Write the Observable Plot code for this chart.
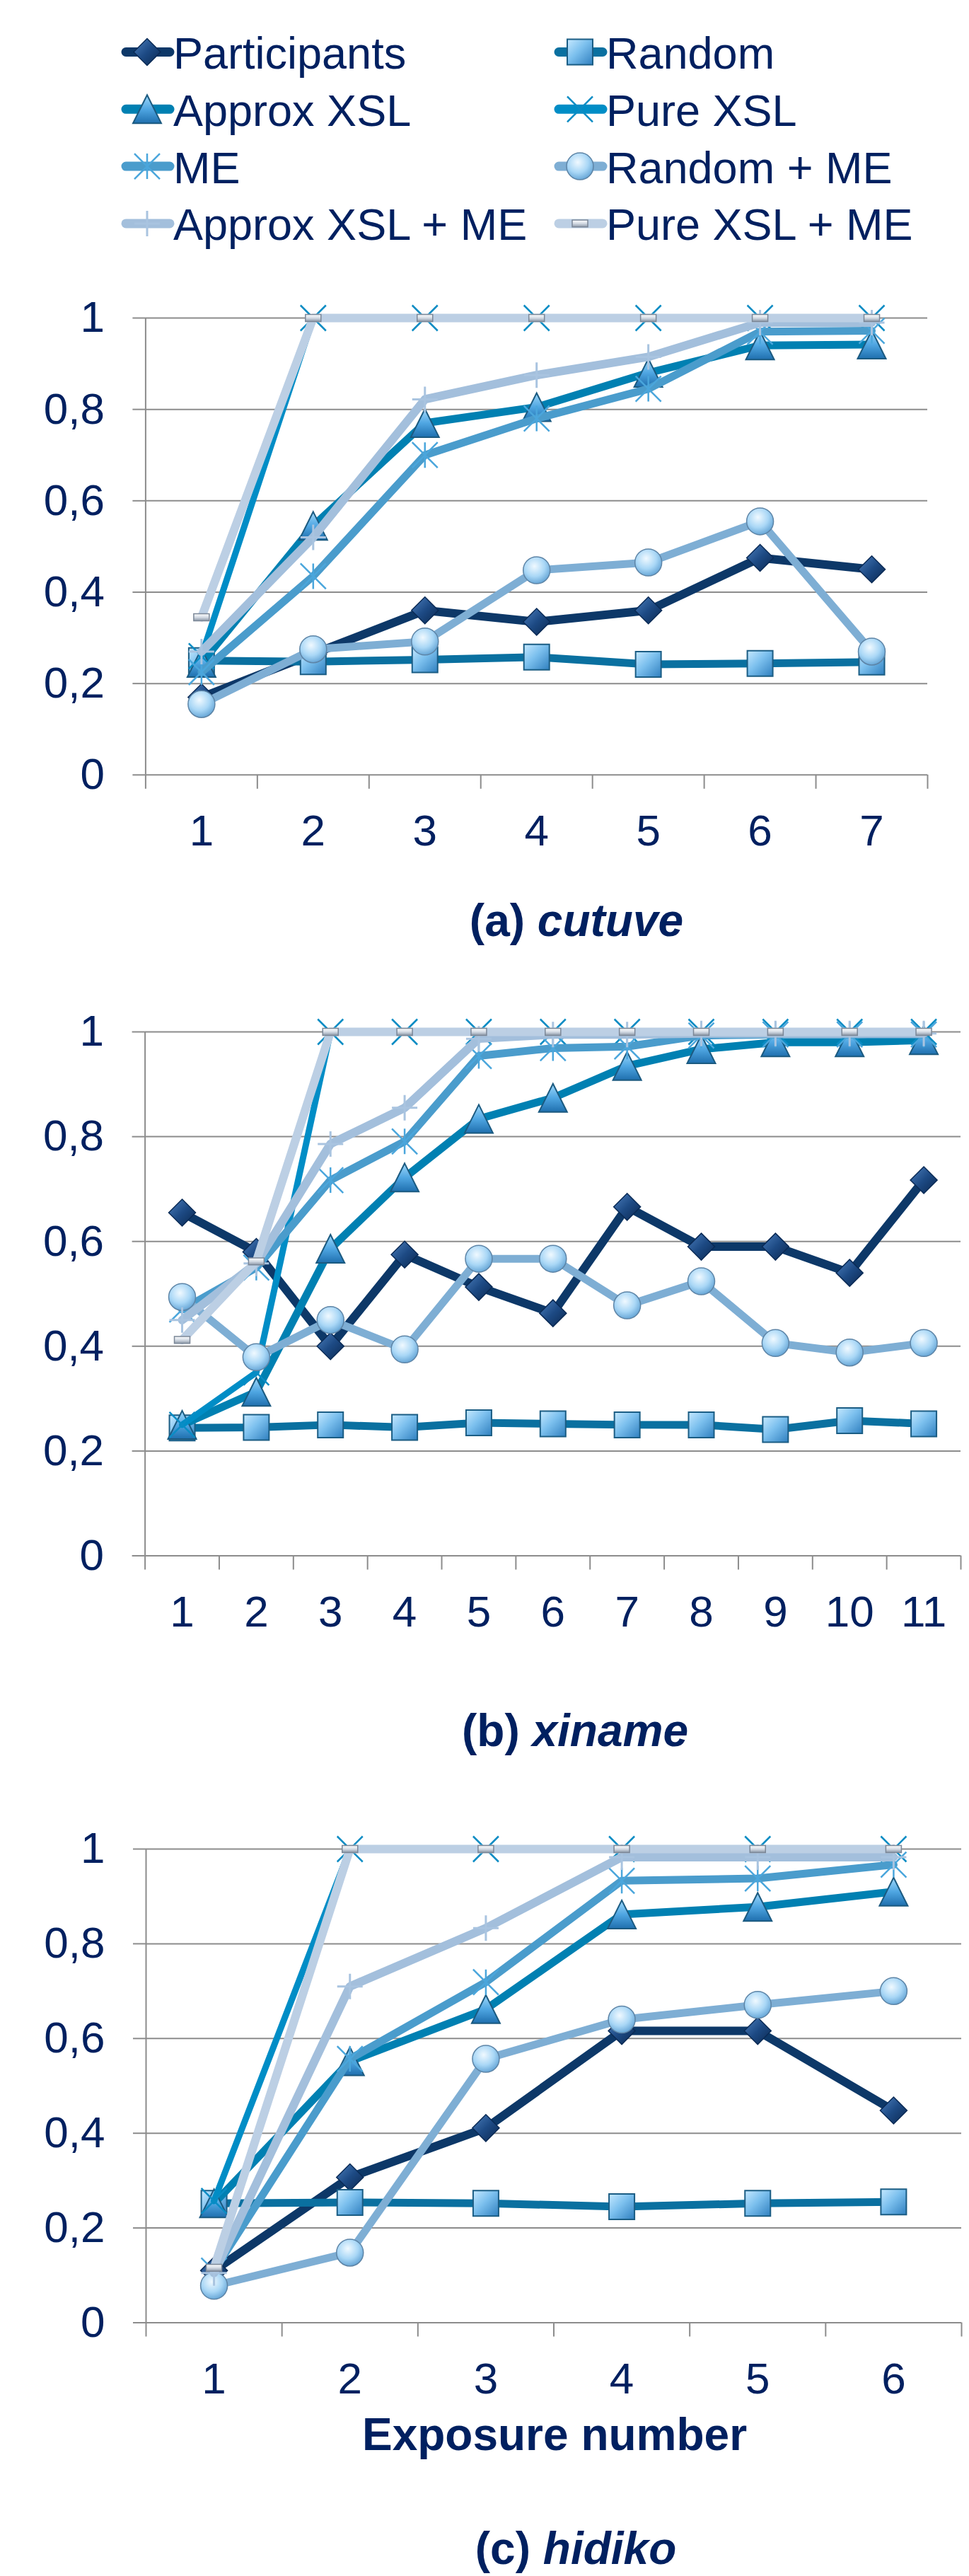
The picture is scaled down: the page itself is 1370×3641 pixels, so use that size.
<!DOCTYPE html>
<html>
<head>
<meta charset="utf-8">
<script src="https://cdn.jsdelivr.net/npm/d3@7"></script>
<script src="https://cdn.jsdelivr.net/npm/@observablehq/plot@0.6"></script>
<style>
  body { margin: 0; background: #fff; }
  #root { position: relative; width: 1370px; height: 3641px; overflow: hidden; font-family: "Liberation Sans", Arial, sans-serif; }
  .panel { position: absolute; left: 0; }
  #overlay { position: absolute; left: 0; top: 0; pointer-events: none; }
</style>
</head>
<body>
<div id="root"></div>
<script>
// ---------------- DATA ----------------
const seriesNames = ["Participants", "Random", "Approx XSL", "Pure XSL", "ME", "Random + ME", "Approx XSL + ME", "Pure XSL + ME"];
const yTicks = [0, 0.2, 0.4, 0.6, 0.8, 1];

// (a) cutuve
const exposuresA = [1, 2, 3, 4, 5, 6, 7];
const participantsA = [0.17, 0.265, 0.36, 0.335, 0.36, 0.475, 0.45];
const randomA       = [0.25, 0.248, 0.252, 0.258, 0.242, 0.244, 0.247];
const approxXslA    = [0.245, 0.545, 0.77, 0.805, 0.88, 0.94, 0.942];
const pureXslA      = [0.26, 1, 1, 1, 1, 1, 1];
const meA           = [0.225, 0.435, 0.70, 0.78, 0.845, 0.97, 0.972];
const randomMeA     = [0.155, 0.275, 0.292, 0.448, 0.465, 0.555, 0.27];
const approxXslMeA  = [0.27, 0.52, 0.822, 0.875, 0.915, 0.99, 0.99];
const pureXslMeA    = [0.345, 1, 1, 1, 1, 1, 1];

// (b) xiname
const exposuresB = [1, 2, 3, 4, 5, 6, 7, 8, 9, 10, 11];
const participantsB = [0.655, 0.58, 0.40, 0.575, 0.513, 0.463, 0.666, 0.59, 0.59, 0.54, 0.717];
const randomB       = [0.244, 0.245, 0.25, 0.245, 0.254, 0.252, 0.25, 0.25, 0.241, 0.258, 0.252];
const approxXslB    = [0.25, 0.313, 0.586, 0.722, 0.834, 0.874, 0.935, 0.967, 0.98, 0.98, 0.984];
const pureXslB      = [0.25, 0.35, 1, 1, 1, 1, 1, 1, 1, 1, 1];
const meB           = [0.47, 0.55, 0.717, 0.791, 0.954, 0.969, 0.972, 0.993, 0.995, 0.995, 0.995];
const randomMeB     = [0.494, 0.379, 0.45, 0.394, 0.567, 0.567, 0.478, 0.524, 0.406, 0.388, 0.406];
const approxXslMeB  = [0.45, 0.558, 0.786, 0.855, 0.987, 0.995, 0.995, 0.997, 0.997, 0.997, 0.997];
const pureXslMeB    = [0.412, 0.562, 1, 1, 1, 1, 1, 1, 1, 1, 1];

// (c) hidiko
const exposuresC = [1, 2, 3, 4, 5, 6];
const participantsC = [0.11, 0.307, 0.411, 0.616, 0.616, 0.448];
const randomC       = [0.252, 0.254, 0.252, 0.245, 0.252, 0.255];
const approxXslC    = [0.252, 0.552, 0.662, 0.862, 0.878, 0.91];
const pureXslC      = [0.257, 1, 1, 1, 1, 1];
const meC           = [0.11, 0.557, 0.719, 0.933, 0.938, 0.967];
const randomMeC     = [0.078, 0.148, 0.557, 0.64, 0.671, 0.70];
const approxXslMeC  = [0.105, 0.71, 0.833, 0.983, 0.983, 0.983];
const pureXslMeC    = [0.116, 1, 1, 1, 1, 1];

// ---------------- STYLE ----------------
const textColor = "#002060";
const gridColor = "#8c8c8c";
const lineColors = ["#0d3868", "#0a70a0", "#0080b2", "#008dc6", "#4a9ccc", "#7eaed4", "#a3bfdc", "#bccfe4"];
const lineWidths = [12, 11, 11, 9, 11, 11, 12, 12];

const mk = f => ({ draw(ctx, size) { f(ctx, Math.sqrt(size / Math.PI)); } });
const symbols = {
  diamond: mk((c, r) => { c.moveTo(0, -r); c.lineTo(r, 0); c.lineTo(0, r); c.lineTo(-r, 0); c.closePath(); }),
  square: mk((c, r) => { c.rect(-r, -r, 2 * r, 2 * r); }),
  triangle: mk((c, r) => { c.moveTo(0, -r); c.lineTo(r, r); c.lineTo(-r, r); c.closePath(); }),
  times: mk((c, r) => { c.moveTo(-r, -r); c.lineTo(r, r); c.moveTo(r, -r); c.lineTo(-r, r); }),
  asterisk: mk((c, r) => { c.moveTo(-r, -r); c.lineTo(r, r); c.moveTo(r, -r); c.lineTo(-r, r); c.moveTo(0, -r); c.lineTo(0, r); }),
  circle: mk((c, r) => { c.moveTo(r, 0); c.arc(0, 0, r, 0, 2 * Math.PI); }),
  plus: mk((c, r) => { c.moveTo(-r, 0); c.lineTo(r, 0); c.moveTo(0, -r); c.lineTo(0, r); }),
  dash: mk((c, r) => { c.rect(-r, -r * 0.45, 2 * r, r * 0.9); })
};
const markers = [
  { symbol: symbols.diamond,  r: 19, fill: "url(#gDia)",  stroke: "#0a2a55", sw: 1.5 },
  { symbol: symbols.square,   r: 18, fill: "url(#gSq)",   stroke: "#1b5d84", sw: 2 },
  { symbol: symbols.triangle, r: 20, fill: "url(#gTri)",  stroke: "#1b5a80", sw: 2 },
  { symbol: symbols.times,    r: 18, fill: "none",        stroke: "#0a8cc4", sw: 2.5 },
  { symbol: symbols.asterisk, r: 18, fill: "none",        stroke: "#4aa6dc", sw: 2.5 },
  { symbol: symbols.circle,   r: 19, fill: "url(#gCir)",  stroke: "#5d84a6", sw: 1.5 },
  { symbol: symbols.plus,     r: 18, fill: "none",        stroke: "#a9c4e0", sw: 3 },
  { symbol: symbols.dash,     r: 11, fill: "url(#gRect)", stroke: "#7b8797", sw: 1.5 }
];

const fmtY = d => String(+(+d).toFixed(1)).replace(".", ",");
const fmtX = d => String(Math.round(d));
const root = document.getElementById("root");

// overlay svg with gradient defs, legend and titles
const overlay = d3.select(root).append("svg").attr("id", "overlay")
  .attr("width", 1370).attr("height", 3641)
  .style("font-family", "'Liberation Sans', Arial, sans-serif");
const defs = overlay.append("defs");
function lin(id, stops, x2 = 1, y2 = 1) {
  const g = defs.append("linearGradient").attr("id", id).attr("x1", 0).attr("y1", 0).attr("x2", x2).attr("y2", y2);
  stops.forEach(([o, c]) => g.append("stop").attr("offset", o).attr("stop-color", c));
}
lin("gDia", [[0, "#4c7fbd"], [0.5, "#1d4a84"], [1, "#0b2850"]]);
lin("gSq", [[0, "#c6e9ff"], [0.45, "#7cc0ee"], [1, "#2f7fbf"]]);
lin("gTri", [[0, "#a0d8fa"], [0.5, "#4fa6e2"], [1, "#1f6fae"]], 0, 1);
lin("gRect", [[0, "#ffffff"], [0.5, "#d4dbe4"], [1, "#8a96a6"]], 0, 1);
const rg = defs.append("radialGradient").attr("id", "gCir").attr("cx", 0.42).attr("cy", 0.35).attr("r", 0.7);
[[0, "#f0f9ff"], [0.55, "#a9d7f6"], [1, "#5d9fd2"]].forEach(([o, c]) => rg.append("stop").attr("offset", o).attr("stop-color", c));

function makePanel({ exposures, series, yTop, yBottom, xLeft, xRight }) {
  const mt = 60, mb = 140;
  const n = exposures.length;
  const height = (yBottom - yTop) + mt + mb;
  const rows = series.flatMap((vals, si) => vals.map((v, i) => ({ si, name: seriesNames[si], x: exposures[i], y: v })));
  const bounds = d3.range(0, n + 1).map(i => exposures[0] - 0.5 + i);
  const marks = [
    Plot.gridY(yTicks, { stroke: gridColor, strokeOpacity: 1, strokeWidth: 2 }),
    Plot.axisY(yTicks, { label: null, tickSize: 18, tickPadding: 40, tickFormat: fmtY, stroke: gridColor, strokeWidth: 2, fill: textColor, fontSize: 62 }),
    Plot.ruleX([bounds[0]], { stroke: gridColor, strokeWidth: 2 }),
    Plot.axisX(bounds, { label: null, tickSize: 20, tickFormat: () => "", stroke: gridColor, strokeWidth: 2 }),
    Plot.axisX(exposures, { label: null, tickSize: 0, tickPadding: 56, tickFormat: fmtX, fill: textColor, fontSize: 62 })
  ];
  seriesNames.forEach((name, si) => {
    const d = rows.filter(r => r.si === si);
    const m = markers[si];
    marks.push(Plot.line(d, { x: "x", y: "y", stroke: lineColors[si], strokeWidth: lineWidths[si], strokeLinejoin: "round", strokeLinecap: "round" }));
    marks.push(Plot.dot(d, { x: "x", y: "y", symbol: m.symbol, r: m.r, fill: m.fill, stroke: m.stroke, strokeWidth: m.sw }));
  });
  const svg = Plot.plot({
    width: 1370, height,
    marginLeft: xLeft, marginRight: 1370 - xRight, marginTop: mt, marginBottom: mb,
    x: { domain: [bounds[0], bounds[n]], label: null },
    y: { domain: [0, 1], label: null },
    style: { fontFamily: "'Liberation Sans', Arial, sans-serif", fontSize: "62px", color: textColor, background: "transparent", overflow: "visible" },
    marks
  });
  svg.classList.add("panel");
  svg.style.top = (yTop - mt) + "px";
  root.insertBefore(svg, overlay.node());
}

makePanel({ exposures: exposuresA, series: [participantsA, randomA, approxXslA, pureXslA, meA, randomMeA, approxXslMeA, pureXslMeA], yTop: 448.8, yBottom: 1094.6, xLeft: 205.4, xRight: 1311 });
makePanel({ exposures: exposuresB, series: [participantsB, randomB, approxXslB, pureXslB, meB, randomMeB, approxXslMeB, pureXslMeB], yTop: 1457.5, yBottom: 2198, xLeft: 204.6, xRight: 1358 });
makePanel({ exposures: exposuresC, series: [participantsC, randomC, approxXslC, pureXslC, meC, randomMeC, approxXslMeC, pureXslMeC], yTop: 2612.5, yBottom: 3282, xLeft: 206, xRight: 1359 });

// legend
const legendX = [208, 820], legendTextX = [245, 857];
seriesNames.forEach((name, i) => {
  const col = i % 2, row = Math.floor(i / 2);
  const cx = legendX[col], cy = 73.5 + row * 80.8;
  const g = overlay.append("g");
  g.append("line").attr("x1", cx - 30).attr("x2", cx + 32).attr("y1", cy).attr("y2", cy)
    .attr("stroke", lineColors[i]).attr("stroke-width", 13).attr("stroke-linecap", "round");
  const m = markers[i];
  g.append("path").attr("transform", `translate(${cx},${cy})`)
    .attr("d", d3.symbol(m.symbol, m.r * m.r * Math.PI)())
    .attr("fill", m.fill).attr("stroke", m.stroke).attr("stroke-width", m.sw);
  g.append("text").attr("x", legendTextX[col]).attr("y", cy + 23.5)
    .attr("fill", textColor).attr("font-size", 63).text(name);
});

// titles
function title(x, y, a, b) {
  const t = overlay.append("text").attr("x", x).attr("y", y).attr("text-anchor", "middle")
    .attr("fill", textColor).attr("font-size", 64).attr("font-weight", "bold");
  t.append("tspan").text(a);
  if (b) t.append("tspan").attr("font-style", "italic").text(b);
}
title(815, 1323, "(a) ", "cutuve");
title(813, 2468, "(b) ", "xiname");
title(784, 3463, "Exposure number");
title(814, 3624, "(c) ", "hidiko");
</script>
</body>
</html>
